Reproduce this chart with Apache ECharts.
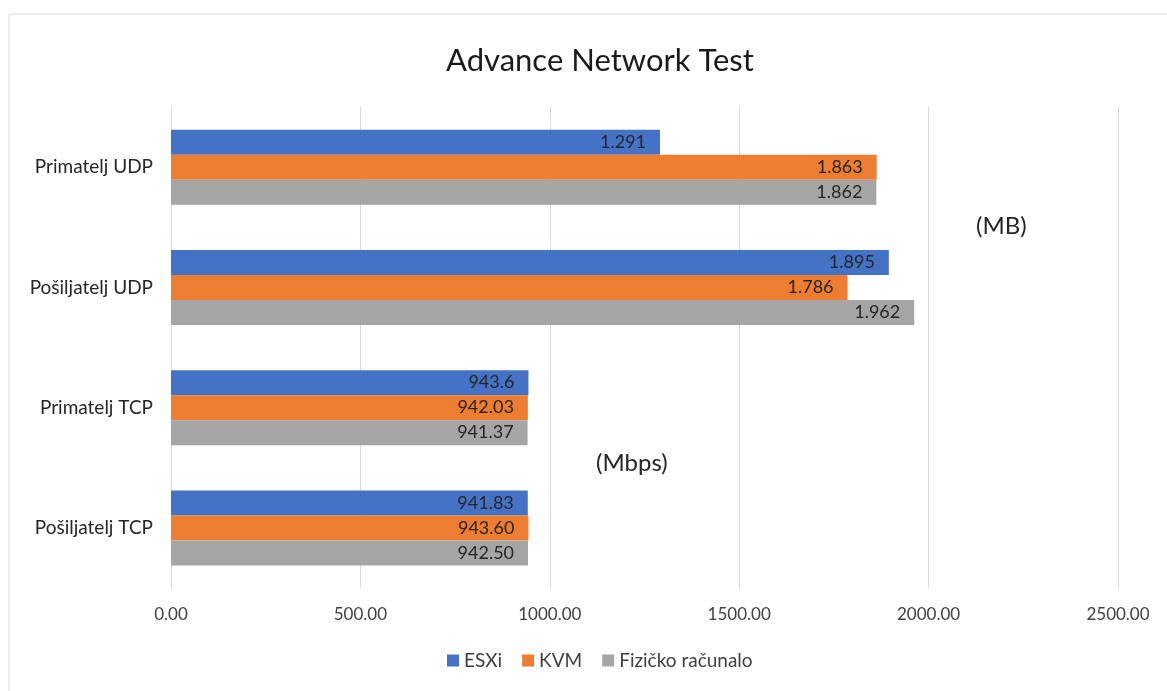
<!DOCTYPE html>
<html>
<head>
<meta charset="utf-8">
<script src="https://cdn.jsdelivr.net/npm/echarts@6/dist/echarts.min.js"></script>
<style>
html,body{margin:0;padding:0;background:#fff;}
#chart{width:1167px;height:691px;}
</style>
</head>
<body>
<div id="chart"></div>
<script>
const categories = ['Pošiljatelj TCP', 'Primatelj TCP', 'Pošiljatelj UDP', 'Primatelj UDP'];
const seriesNames = ['ESXi', 'KVM', 'Fizičko računalo'];
const esxiValues = [941.83, 943.6, 1895, 1291];
const kvmValues = [943.60, 942.03, 1786, 1863];
const fizickoValues = [942.50, 941.37, 1962, 1862];
const esxiLabels = ['941.83', '943.6', '1.895', '1.291'];
const kvmLabels = ['943.60', '942.03', '1.786', '1.863'];
const fizickoLabels = ['942.50', '941.37', '1.962', '1.862'];
const xTicks = ['0.00', '500.00', '1000.00', '1500.00', '2000.00', '2500.00'];
const colors = ['#4472C4', '#ED7D31', '#A5A5A5'];
const font = 'Lato, "Open Sans", sans-serif';

const chart = echarts.init(document.getElementById('chart'));
function mkSeries(name, vals, labels, color) {
  return {
    name: name,
    type: 'bar',
    barWidth: 25,
    barGap: '0%',
    data: vals,
    itemStyle: { color: color },
    label: {
      show: true,
      position: 'insideRight',
      distance: 14,
      color: '#262626',
      fontFamily: font,
      fontSize: 18,
      formatter: p => labels[p.dataIndex]
    }
  };
}
chart.setOption({
  animation: false,
  title: {
    text: 'Advance Network Test',
    left: 441,
    top: 40,
    textStyle: { fontFamily: font, fontSize: 31, fontWeight: 'normal', color: '#1a1a1a' }
  },
  legend: {
    data: seriesNames,
    bottom: 16,
    left: 442,
    itemWidth: 12,
    itemHeight: 12,
    itemGap: 20,
    icon: 'rect',
    textStyle: { fontFamily: font, fontSize: 19, color: '#404040' }
  },
  grid: { left: 171, right: 49, top: 107, bottom: 103, containLabel: false },
  xAxis: {
    type: 'value',
    min: 0,
    max: 2500,
    interval: 500,
    axisLine: { show: false },
    axisTick: { show: false },
    splitLine: { lineStyle: { color: '#d9d9d9', width: 1 } },
    axisLabel: {
      fontFamily: font, fontSize: 17, color: '#404040', margin: 18,
      formatter: (v) => xTicks[Math.round(v / 500)]
    }
  },
  yAxis: {
    type: 'category',
    data: categories,
    axisLine: { show: false },
    axisTick: { show: false },
    splitLine: { show: false },
    axisLabel: { fontFamily: font, fontSize: 19, color: '#262626', margin: 18 }
  },
  series: [
    mkSeries(seriesNames[0], esxiValues, esxiLabels, colors[0]),
    mkSeries(seriesNames[1], kvmValues, kvmLabels, colors[1]),
    mkSeries(seriesNames[2], fizickoValues, fizickoLabels, colors[2])
  ],
  graphic: [
    { type: 'rect', shape: { x: 9, y: 14, width: 1180, height: 700 }, style: { fill: 'none', stroke: '#d9d9d9', lineWidth: 1 }, silent: true, z: -1 },
    { type: 'text', left: 976, top: 214, style: { text: '(MB)', fontFamily: font, fontSize: 24, fill: '#262626' } },
    { type: 'text', left: 596, top: 451, style: { text: '(Mbps)', fontFamily: font, fontSize: 24, fill: '#262626' } }
  ]
});
</script>
</body>
</html>
